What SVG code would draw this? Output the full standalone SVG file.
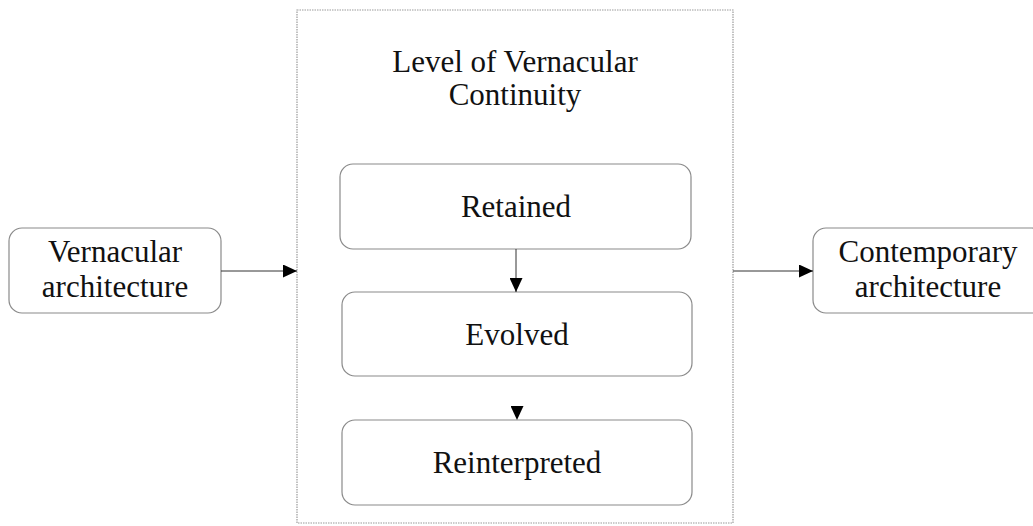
<svg xmlns="http://www.w3.org/2000/svg" width="1033" height="526" viewBox="0 0 1033 526">
<defs>
<style>
.node{fill:#fff;stroke:#8a8a8a;stroke-width:1.2}
.frame{fill:#fff;stroke:#9a9a9a;stroke-width:1.2;stroke-dasharray:1.5 1}
.t{font-family:"Liberation Serif","Times New Roman",serif;font-size:31px;fill:#111;text-anchor:middle}
.c{stroke:#333;stroke-width:1;fill:none}
</style>
<marker id="ah" viewBox="0 0 14 13" refX="14" refY="6.5" markerWidth="14" markerHeight="13" markerUnits="userSpaceOnUse" orient="auto">
<path d="M0,0 L14,6.5 L0,13 Z" fill="#000"/>
</marker>
</defs>
<rect width="1033" height="526" fill="#fff"/>
<g id="frame">
<rect class="frame" x="297" y="10" width="436" height="513"/>
<text class="t" x="515" y="72">Level of Vernacular</text>
<text class="t" x="515" y="105">Continuity</text>
</g>
<g id="vernacular">
<rect class="node" x="9" y="228" width="212" height="85" rx="13"/>
<text class="t" x="115" y="262">Vernacular</text>
<text class="t" x="115" y="297">architecture</text>
</g>
<g id="contemporary">
<rect class="node" x="813" y="228" width="232" height="85" rx="13"/>
<text class="t" x="928" y="262">Contemporary</text>
<text class="t" x="928" y="297">architecture</text>
</g>
<g id="retained">
<rect class="node" x="340" y="164" width="351" height="85" rx="13"/>
<text class="t" x="516" y="217">Retained</text>
</g>
<g id="evolved">
<rect class="node" x="342" y="292" width="350" height="84" rx="13"/>
<text class="t" x="517" y="345">Evolved</text>
</g>
<g id="reinterpreted">
<rect class="node" x="342" y="420" width="350" height="85" rx="13"/>
<text class="t" x="517" y="473">Reinterpreted</text>
</g>
<g id="connectors">
<line class="c" x1="221" y1="271" x2="297" y2="271" marker-end="url(#ah)"/>
<line class="c" x1="733" y1="271" x2="813" y2="271" marker-end="url(#ah)"/>
<line class="c" x1="516" y1="249" x2="516" y2="292" marker-end="url(#ah)"/>
<line class="c" x1="517" y1="376" x2="517" y2="420" stroke-opacity="0" marker-end="url(#ah)"/>
</g>
</svg>
